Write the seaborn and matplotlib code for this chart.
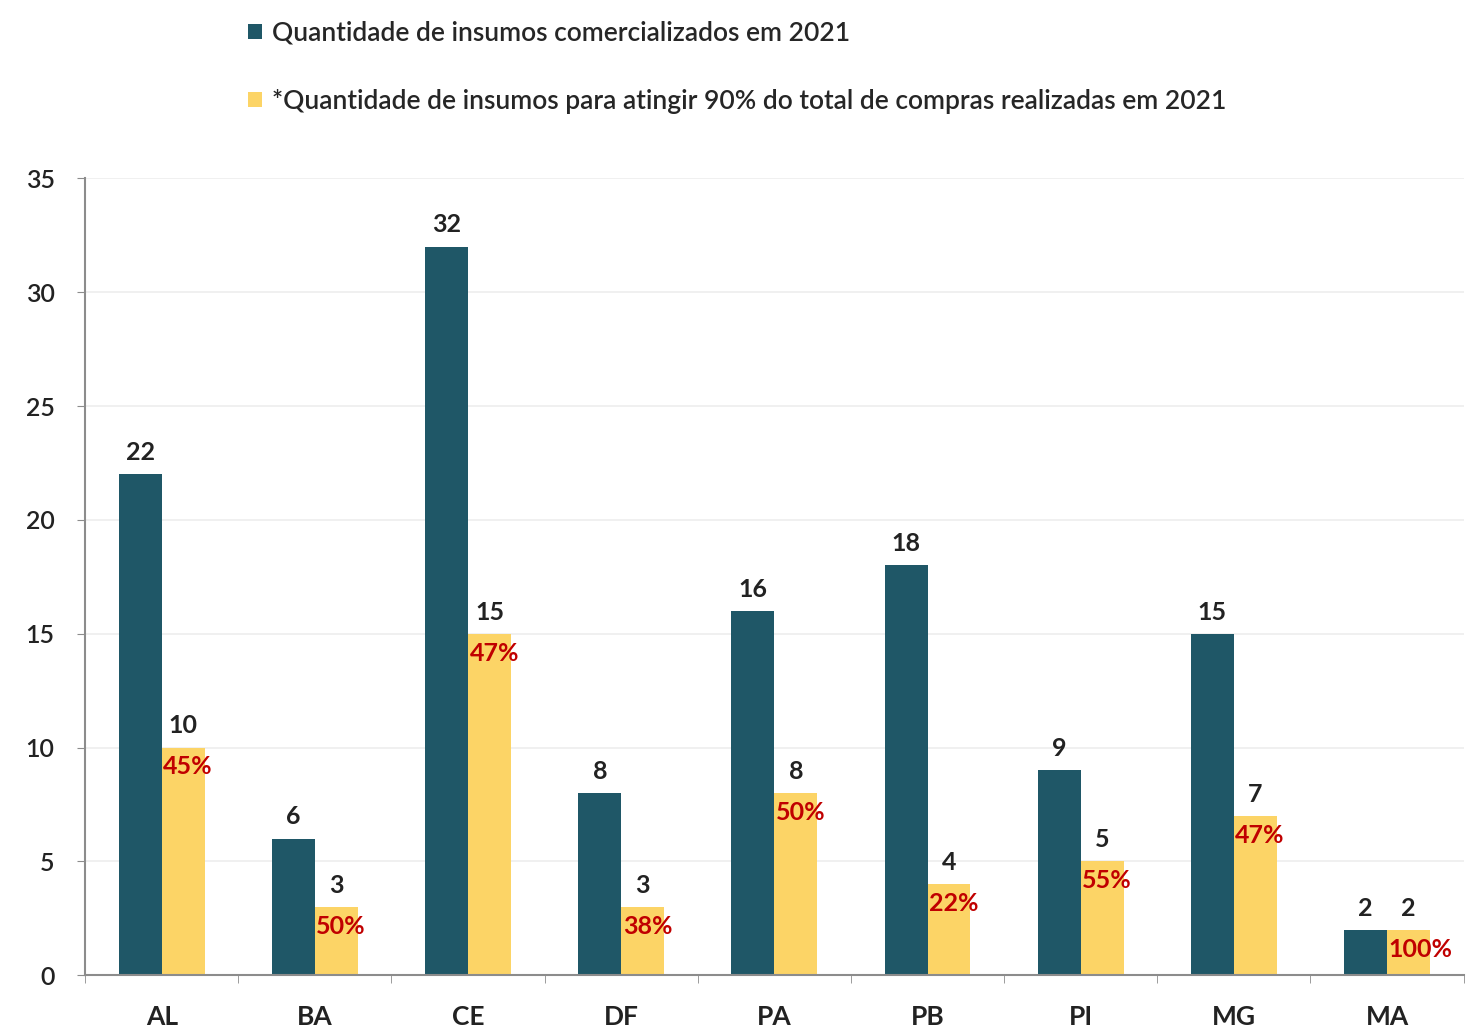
import matplotlib
matplotlib.use("Agg")
import matplotlib.pyplot as plt
import seaborn as sns
import pandas as pd
from matplotlib.patches import Patch
from matplotlib.ticker import FixedLocator

states = ["AL", "BA", "CE", "DF", "PA", "PB", "PI", "MG", "MA"]
comercializados = [22, 6, 32, 8, 16, 18, 9, 15, 2]
para_90 = [10, 3, 15, 3, 8, 4, 5, 7, 2]
percentuais = ["45%", "50%", "47%", "38%", "50%", "22%", "55%", "47%", "100%"]
series_names = ["Quantidade de insumos comercializados em 2021",
                "*Quantidade de insumos para atingir 90% do total de compras realizadas em 2021"]
colors = ["#1F5767", "#FCD466"]

df = pd.DataFrame({
    "estado": states * 2,
    "valor": comercializados + para_90,
    "serie": [series_names[0]] * len(states) + [series_names[1]] * len(states),
})

sns.set_style("white")
plt.rcParams["font.family"] = ["Lato", "DejaVu Sans"]

fig = plt.figure(figsize=(14.68, 10.31), dpi=100)
ax = fig.add_axes([0.058, 0.054, 0.939, 0.773])

sns.barplot(data=df, x="estado", y="valor", hue="serie", palette=colors,
            width=0.56, gap=0, ax=ax, legend=False, saturation=1, linewidth=0)

ax.set_ylim(0, 35)
ax.set_xlim(-0.5, len(states) - 0.5)
ax.set_yticks(range(0, 36, 5))
ax.yaxis.grid(True, color="#EEEEEE", linewidth=1.2)
ax.set_axisbelow(True)
for s in ["top", "right"]:
    ax.spines[s].set_visible(False)
for s in ["left", "bottom"]:
    ax.spines[s].set_color("#8C8C8C")
    ax.spines[s].set_linewidth(1.5)

ax.set_xlabel("")
ax.set_ylabel("")
ax.tick_params(axis="y", which="major", left=True, length=6, color="#8C8C8C",
               labelsize=18, pad=16)
ax.tick_params(axis="x", which="major", bottom=False, labelsize=19, pad=18)
ax.xaxis.set_minor_locator(FixedLocator([i + 0.5 for i in range(-1, len(states))]))
ax.tick_params(axis="x", which="minor", bottom=True, length=6, color="#8C8C8C")
for lbl in ax.get_xticklabels():
    lbl.set_fontweight("bold")
    lbl.set_color("#222222")
for lbl in ax.get_yticklabels():
    lbl.set_color("#222222")
    lbl.set_fontweight("semibold")

dark_bars = ax.containers[0]
yellow_bars = ax.containers[1]
for bar, v in zip(dark_bars, comercializados):
    ax.text(bar.get_x() + bar.get_width() / 2, v + 0.45, str(v),
            ha="center", va="bottom", fontsize=18, fontweight="bold", color="#222222")
for bar, v, p in zip(yellow_bars, para_90, percentuais):
    ax.text(bar.get_x() + bar.get_width() / 2, v + 0.45, str(v),
            ha="center", va="bottom", fontsize=18, fontweight="bold", color="#222222")
    ax.text(bar.get_x() + 0.01, v - 0.85, p,
            ha="left", va="center", fontsize=18, fontweight="bold", color="#C00000")

handles = [Patch(facecolor=c, edgecolor="none") for c in colors]
fig.legend(handles, series_names, loc="upper left", bbox_to_anchor=(0.153, 1.003),
           frameon=False, handlelength=0.5, handleheight=0.5,
           handletextpad=0.4, labelspacing=1.65,
           prop={"size": 19, "weight": "semibold"})

fig.savefig("out.png", dpi=100)
